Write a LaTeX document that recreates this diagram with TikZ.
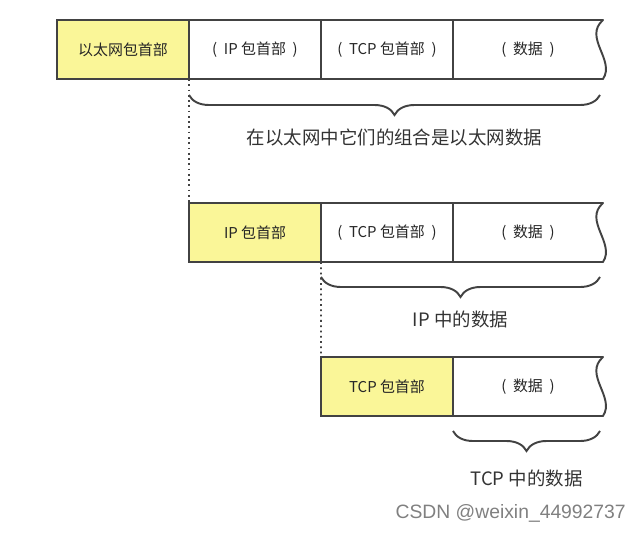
\documentclass[tikz,border=0pt]{standalone}
\usepackage{fontspec}
\setmainfont{Noto Sans CJK SC}
\newfontfamily\wmfont{Liberation Sans}
\usetikzlibrary{positioning,decorations.pathreplacing,calc}
\definecolor{hdryellow}{RGB}{250,246,152}
\definecolor{framegray}{RGB}{66,66,66}
\newcommand{\pgap}{\hspace{0.45em}}

\begin{document}
\begin{tikzpicture}[
  cell/.style={draw=framegray, line width=1.1pt, minimum width=2.64cm, minimum height=1.18cm, outer sep=0pt, inner sep=0pt, text=black!85, font=\fontsize{8.5}{10}\selectfont},
  hdr/.style={cell, fill=hdryellow},
  datcell/.style={cell, draw=none, minimum width=3.0cm},
  wavy/.style={draw=framegray, line width=1.1pt, line join=round},
  brc/.style={draw=framegray, line width=1.1pt, decorate, decoration={brace, mirror, amplitude=0.4cm}},
  blabel/.style={font=\fontsize{10.5}{12}\selectfont, text=black!80},
  link/.style={draw=framegray, line width=1pt, dotted}
]
\useasboundingbox (0,0) rectangle (12.8,10.64);

%--- Ethernet frame (top) ---
\node[hdr] (eth) at (2.46, 9.65) {以太网包首部};
\node[cell, right=0pt of eth] (ip1) {(\pgap IP 包首部\pgap)};
\node[cell, right=0pt of ip1] (tcp1) {(\pgap TCP 包首部\pgap)};
\node[datcell, right=0pt of tcp1] (dat1) {(\pgap 数据\pgap)};
\draw[wavy] (dat1.north west) -- (dat1.north east) .. controls +(-0.4,-0.35) and +(0.25,0.38) .. (dat1.south east) -- (dat1.south west);
\draw[brc] ([yshift=-0.32cm]ip1.south west) -- ([xshift=-0.06cm,yshift=-0.32cm]dat1.south east)
  node[blabel, midway, below=0.55cm] (lab1) {在以太网中它们的组合是以太网数据};

%--- IP packet (middle) ---
\node[hdr] (iph) at (5.10, 5.99) {IP 包首部};
\node[cell, right=0pt of iph] (tcp2) {(\pgap TCP 包首部\pgap)};
\node[datcell, right=0pt of tcp2] (dat2) {(\pgap 数据\pgap)};
\draw[wavy] (dat2.north west) -- (dat2.north east) .. controls +(-0.4,-0.35) and +(0.25,0.38) .. (dat2.south east) -- (dat2.south west);
\draw[brc] ([yshift=-0.3cm]tcp2.south west) -- ([xshift=-0.06cm,yshift=-0.3cm]dat2.south east)
  node[blabel, midway, below=0.55cm] (lab2) {IP 中的数据};
\draw[link] (eth.south east) -- (iph.north west);

%--- TCP segment (bottom) ---
\node[hdr] (tcph) at (7.74, 2.91) {TCP 包首部};
\node[datcell, right=0pt of tcph] (dat3) {(\pgap 数据\pgap)};
\draw[wavy] (dat3.north west) -- (dat3.north east) .. controls +(-0.4,-0.35) and +(0.25,0.38) .. (dat3.south east) -- (dat3.south west);
\draw[brc] ([yshift=-0.3cm]dat3.south west) -- ([xshift=-0.06cm,yshift=-0.3cm]dat3.south east)
  node[blabel, midway, below=0.65cm] (lab3) {TCP 中的数据};
\draw[link] (iph.south east) -- (tcph.north west);

% watermark
\node[font=\wmfont\fontsize{11}{13}\selectfont, text=black!50, anchor=east] (wm) at (12.64, 0.38) {CSDN @weixin\_44992737};
\end{tikzpicture}
\end{document}
